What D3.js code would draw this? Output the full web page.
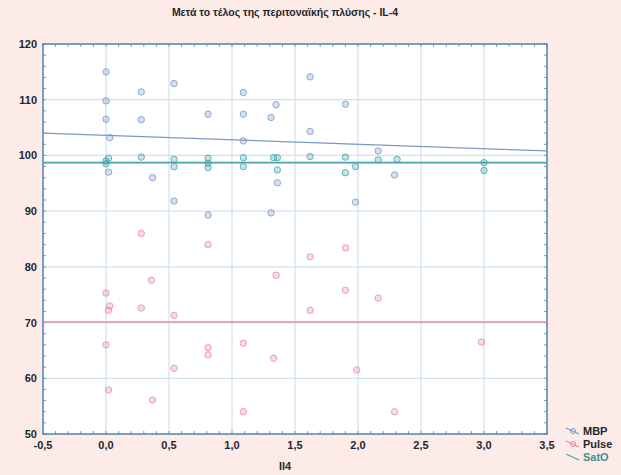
<!DOCTYPE html>
<html>
<head>
<meta charset="utf-8">
<script src="https://cdn.jsdelivr.net/npm/d3@7"></script>
<style>
  body { margin: 0; background: #fcebe6; }
  svg { display: block; }
  .tick-label { font-family: "Liberation Sans", Arial, sans-serif; font-weight: bold; font-size: 11px; fill: #1e2733; }
</style>
</head>
<body>
<div id="chart"></div>
<script>
// data
let xTicks = [-0.5, 0, 0.5, 1, 1.5, 2, 2.5, 3, 3.5];
let yTicks = [50, 60, 70, 80, 90, 100, 110, 120];

let mbpX = [0, 0, 0, 0.03, 0.28, 0.28, 0.54, 0.54, 0.81, 0.81, 1.09, 1.09, 1.09, 1.35, 1.31, 1.36, 1.31, 1.62, 1.62, 1.9, 1.98, 2.16, 2.29, 0.37, 0.02];
let mbpY = [115, 109.8, 106.5, 103.2, 111.4, 106.4, 112.9, 91.8, 107.4, 89.3, 111.3, 107.4, 102.6, 109.1, 106.8, 95.1, 89.7, 114.1, 104.3, 109.2, 91.6, 100.8, 96.5, 96, 97];

let pulseX = [0, 0.02, 0.03, 0.28, 0.28, 0.36, 0.37, 0.54, 0.54, 0.81, 0.81, 0.81, 1.09, 1.09, 1.33, 1.35, 1.62, 1.62, 1.9, 1.9, 1.99, 2.16, 2.29, 2.98, 0, 0.02];
let pulseY = [75.3, 72.2, 73, 86, 72.6, 77.6, 56.1, 71.3, 61.8, 84, 65.5, 64.2, 66.3, 54, 63.6, 78.5, 81.8, 72.2, 83.4, 75.8, 61.5, 74.4, 54, 66.5, 66, 57.9];

let satX = [0, 0, 0.02, 0.28, 0.54, 0.54, 0.81, 0.81, 0.81, 1.09, 1.09, 1.33, 1.36, 1.36, 1.62, 1.9, 1.9, 1.98, 2.16, 2.31, 3.0, 3.0];
let satY = [99, 98.5, 99.5, 99.7, 99.3, 98, 99.5, 98.6, 97.8, 99.6, 98, 99.6, 99.6, 97.4, 99.8, 99.7, 96.9, 98, 99.2, 99.3, 98.7, 97.3];

// fitted lines, values at x = -0.5 and x = 3.5
let fitX = [-0.5, 3.5];
let mbpFit = [104, 100.8];
let pulseFit = [70.1, 70.1];
let satFit = [98.7, 98.7];

let seriesNames = ["MBP", "Pulse", "SatO"];
let seriesColors = ["#7a98c8", "#e88aa8", "#4aa3aa"];

let width = 621, height = 475;
let margin = {top: 44, right: 74, bottom: 41, left: 43};

let svg = d3.select("#chart").append("svg")
    .attr("width", width)
    .attr("height", height);

let x = d3.scaleLinear().domain([-0.5, 3.5]).range([margin.left, width - margin.right]);
let y = d3.scaleLinear().domain([50, 120]).range([height - margin.bottom, margin.top]);

// plot area
svg.append("rect")
    .attr("x", x(-0.5)).attr("y", y(120))
    .attr("width", x(3.5) - x(-0.5)).attr("height", y(50) - y(120))
    .attr("fill", "#ffffff");

// grid
svg.selectAll(".vgrid").data(xTicks.slice(1, -1)).enter().append("line")
    .attr("x1", d => x(d)).attr("x2", d => x(d))
    .attr("y1", y(120)).attr("y2", y(50))
    .attr("stroke", "#cfe2ee").attr("stroke-width", 1.2);
svg.selectAll(".hgrid").data(yTicks.slice(1, -1)).enter().append("line")
    .attr("y1", d => y(d)).attr("y2", d => y(d))
    .attr("x1", x(-0.5)).attr("x2", x(3.5))
    .attr("stroke", "#cfe2ee").attr("stroke-width", 1.2);

// minor ticks inside the frame
let minorX = d3.range(-0.5, 3.5001, 0.1);
let minorY = d3.range(50, 120.001, 2);
let ticks = svg.append("g").attr("stroke", "#6f9cc0").attr("stroke-width", 1);
minorX.forEach(function(v) {
    ticks.append("line").attr("x1", x(v)).attr("x2", x(v)).attr("y1", y(50)).attr("y2", y(50) - 3);
    ticks.append("line").attr("x1", x(v)).attr("x2", x(v)).attr("y1", y(120)).attr("y2", y(120) + 3);
});
minorY.forEach(function(v) {
    ticks.append("line").attr("y1", y(v)).attr("y2", y(v)).attr("x1", x(-0.5)).attr("x2", x(-0.5) + 3);
    ticks.append("line").attr("y1", y(v)).attr("y2", y(v)).attr("x1", x(3.5)).attr("x2", x(3.5) - 3);
});

// frame
svg.append("rect")
    .attr("x", x(-0.5)).attr("y", y(120))
    .attr("width", x(3.5) - x(-0.5)).attr("height", y(50) - y(120))
    .attr("fill", "none").attr("stroke", "#4f84ae").attr("stroke-width", 1.5);

// tick labels
let fmt = d => d3.format(".1f")(d).replace(".", ",").replace("−", "-");
svg.selectAll(".xl").data(xTicks).enter().append("text")
    .attr("class", "tick-label")
    .attr("x", d => x(d)).attr("y", y(50) + 15)
    .attr("text-anchor", "middle")
    .text(fmt);
svg.selectAll(".yl").data(yTicks).enter().append("text")
    .attr("class", "tick-label")
    .attr("x", x(-0.5) - 6).attr("y", d => y(d) + 4)
    .attr("text-anchor", "end")
    .text(d => d);

// fitted lines
let fits = [mbpFit, pulseFit, satFit];
fits.forEach(function(f, i) {
    svg.append("line")
        .attr("x1", x(fitX[0])).attr("y1", y(f[0]))
        .attr("x2", x(fitX[1])).attr("y2", y(f[1]))
        .attr("stroke", seriesColors[i])
        .attr("stroke-width", i == 0 ? 1.2 : 1.6);
});

// points
let sets = [[mbpX, mbpY], [pulseX, pulseY], [satX, satY]];
sets.forEach(function(s, i) {
    svg.append("g").selectAll("circle")
        .data(s[0].map((d, j) => [d, s[1][j]]))
        .enter().append("circle")
        .attr("cx", d => x(d[0])).attr("cy", d => y(d[1]))
        .attr("r", 3.2)
        .attr("fill", seriesColors[i]).attr("fill-opacity", 0.3)
        .attr("stroke", seriesColors[i]).attr("stroke-opacity", 0.8).attr("stroke-width", 1);
});

// title
svg.append("text")
    .attr("x", 285).attr("y", 16)
    .attr("text-anchor", "middle")
    .style("font-family", "Liberation Sans, Arial, sans-serif")
    .style("font-weight", "bold").style("font-size", "10.5px")
    .attr("fill", "#1e2733")
    .text("Μετά το τέλος της περιτοναϊκής πλύσης - IL-4");

// x axis title
svg.append("text")
    .attr("x", 285).attr("y", 470)
    .attr("text-anchor", "middle")
    .attr("class", "tick-label")
    .text("Il4");

// legend
let legend = svg.append("g").attr("transform", "translate(566,432)");
seriesNames.forEach(function(n, i) {
    let g = legend.append("g").attr("transform", "translate(0," + (i * 13) + ")");
    g.append("line").attr("x1", 0).attr("y1", -4).attr("x2", 13).attr("y2", 2)
        .attr("stroke", seriesColors[i]).attr("stroke-width", 1.2);
    if (i < 2) {
        g.append("circle").attr("cx", 7).attr("cy", -1).attr("r", 2.5)
            .attr("fill", "none").attr("stroke", seriesColors[i]);
    }
    g.append("text").attr("x", 17).attr("y", 3)
        .style("font-family", "Liberation Sans, Arial, sans-serif")
        .style("font-weight", "bold").style("font-size", "11px")
        .attr("fill", i == 2 ? "#3e8f9a" : "#1e2733")
        .text(n);
});
</script>
</body>
</html>
